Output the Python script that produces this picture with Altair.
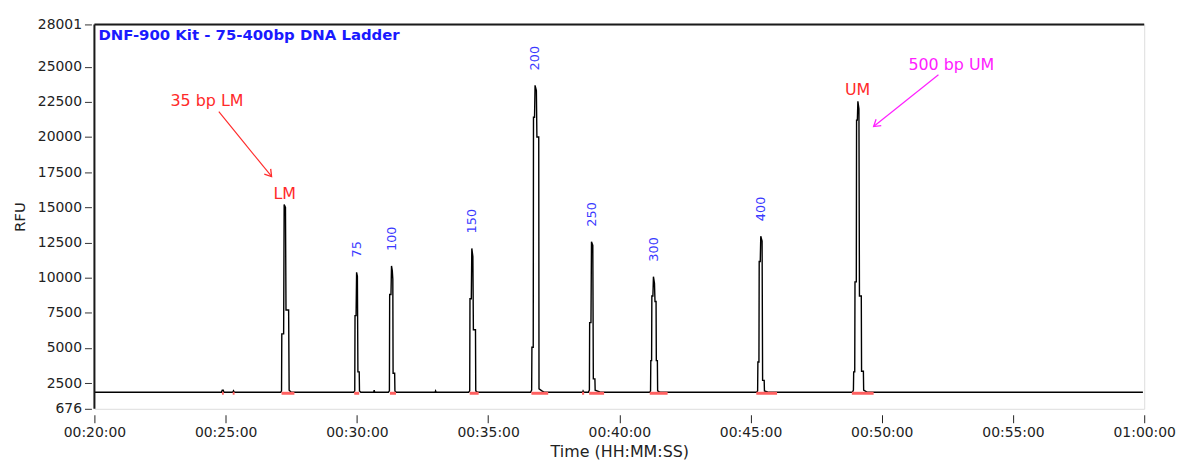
import altair as alt
import pandas as pd

# ---- trace (time in minutes, RFU) ----
TRACE_T = [20.00,
           24.84, 24.87, 24.91, 24.93, 25.27, 25.30, 25.33,
           27.10, 27.13, 27.14, 27.21, 27.23, 27.28, 27.30, 27.40, 27.42, 27.50,
           29.88, 29.92, 29.93, 29.97, 29.99, 30.02, 30.04, 30.09, 30.10, 30.15,
           30.64, 30.66, 30.68,
           31.20, 31.24, 31.25, 31.30, 31.32, 31.35, 31.37, 31.38, 31.44, 31.45, 31.50,
           32.98, 33.00, 33.02,
           34.26, 34.30, 34.31, 34.36, 34.38, 34.42, 34.44, 34.52, 34.53, 34.60,
           36.62, 36.66, 36.67, 36.72, 36.73, 36.77, 36.79, 36.84, 36.86, 36.93, 36.94, 37.05, 37.15,
           38.60, 38.62, 38.65, 38.82, 38.86, 38.87, 38.92, 38.94, 38.99, 39.01, 39.07, 39.08, 39.30,
           41.16, 41.19, 41.20, 41.23, 41.24, 41.28, 41.30, 41.34, 41.36, 41.40, 41.41, 41.45, 41.46, 41.55,
           45.23, 45.27, 45.28, 45.32, 45.33, 45.37, 45.39, 45.44, 45.46, 45.52, 45.53, 45.70,
           48.88, 48.92, 48.93, 48.97, 48.98, 49.03, 49.04, 49.07, 49.09, 49.13, 49.15, 49.22, 49.23, 49.30, 49.31, 49.45,
           59.95]
TRACE_V = [1850,
           1850, 1990, 1990, 1850, 1850, 1960, 1850,
           1850, 1950, 6000, 6000, 15200, 15000, 7700, 7700, 2000, 1850,
           1850, 1950, 7300, 7300, 10380, 10100, 3300, 3300, 1950, 1850,
           1850, 2000, 1850,
           1850, 1950, 8800, 8800, 10830, 10500, 9900, 3200, 3200, 1950, 1850,
           1850, 1950, 1850,
           1850, 1950, 8500, 8500, 12080, 11500, 6300, 6300, 1950, 1850,
           1850, 2000, 5050, 5050, 21400, 21400, 23670, 23300, 20000, 20000, 2100, 1950, 1850,
           1850, 1950, 1850, 1850, 2000, 6800, 6800, 12560, 12300, 2800, 2800, 2000, 1850,
           1850, 1950, 4100, 4100, 8700, 8700, 10070, 9600, 8300, 8300, 4100, 4100, 1950, 1850,
           1850, 1950, 4000, 4000, 11150, 11150, 12950, 12600, 2700, 2700, 1950, 1850,
           1850, 2000, 3300, 3300, 9700, 9700, 21200, 21200, 22540, 22000, 8700, 8700, 3350, 3350, 2000, 1850,
           1850]

# ---- sized peaks ----
PEAK_LABELS = ["75", "100", "150", "200", "250", "300", "400"]
PEAK_T = [30.00, 31.33, 34.40, 36.80, 38.95, 41.32, 45.40]
PEAK_V = [10380, 10830, 12080, 23670, 12560, 10070, 12950]

# ---- markers ----
MARKER_LABELS = ["LM", "UM"]
MARKER_T = [27.25, 49.08]
MARKER_V = [15200, 22540]

# ---- integration baselines (red) ----
RED_START = [24.86, 25.27, 27.13, 29.90, 31.26, 34.30, 36.65, 38.58, 38.85, 41.16, 45.22, 48.86]
RED_END = [24.93, 25.34, 27.62, 30.09, 31.49, 34.64, 37.29, 38.66, 39.42, 41.84, 46.01, 49.69]
RED_LEVEL = 1780

# ---- annotations ----
NOTE_TEXT = ["35 bp LM", "500 bp UM"]
NOTE_T = [24.29, 52.65]
NOTE_V = [22585, 25140]
ARROW_T1 = [24.74, 52.16]
ARROW_V1 = [21800, 24430]
ARROW_T2 = [26.75, 49.69]
ARROW_V2 = [17191, 20740]

TITLE = "DNF-900 Kit - 75-400bp DNA Ladder"
X_TICKS = [20, 25, 30, 35, 40, 45, 50, 55, 60]
Y_TICKS = [676, 2500, 5000, 7500, 10000, 12500, 15000, 17500, 20000, 22500, 25000, 28001]
X_DOMAIN = [20, 60]
Y_DOMAIN = [676, 28001]

FONT = "DejaVu Sans"

trace = pd.DataFrame({"t": TRACE_T, "v": TRACE_V})
peaks = pd.DataFrame({"t": PEAK_T, "v": PEAK_V, "label": PEAK_LABELS})
markers = pd.DataFrame({"t": MARKER_T, "v": MARKER_V, "label": MARKER_LABELS})
reds = pd.DataFrame({"t1": RED_START, "t2": RED_END, "v": [RED_LEVEL] * len(RED_START)})
notes = pd.DataFrame({"t": NOTE_T, "v": NOTE_V, "label": NOTE_TEXT,
                      "t1": ARROW_T1, "v1": ARROW_V1, "t2": ARROW_T2, "v2": ARROW_V2})
title_df = pd.DataFrame({"t": [X_DOMAIN[0]], "v": [Y_DOMAIN[1]], "label": [TITLE]})
frame_df = pd.DataFrame({"x0": [X_DOMAIN[0]], "x1": [X_DOMAIN[1]],
                         "y0": [Y_DOMAIN[0]], "y1": [Y_DOMAIN[1]]})

xscale = alt.Scale(domain=X_DOMAIN, nice=False, zero=False)
yscale = alt.Scale(domain=Y_DOMAIN, nice=False, zero=False)

x_axis = alt.Axis(values=X_TICKS, tickCount=30, title="Time (HH:MM:SS)",
                  labelExpr="datum.value == 60 ? '01:00:00' : '00:' + datum.value + ':00'",
                  grid=False, domain=False, offset=6, tickSize=8, tickColor="#222",
                  labelPadding=3, labelFont=FONT, labelFontSize=14, labelColor="#222",
                  titleFont=FONT, titleFontSize=16, titleFontWeight="normal", titleColor="#222",
                  titlePadding=4, labelFlush=False, labelOverlap=False)
y_axis = alt.Axis(values=Y_TICKS, tickCount=30, title="RFU", format="d",
                  grid=False, domain=False, offset=3, tickSize=7, tickColor="#333",
                  labelPadding=3, labelFont=FONT, labelFontSize=14, labelColor="#222",
                  titleFont=FONT, titleFontSize=15, titleFontWeight="normal", titleColor="#222",
                  titlePadding=10, labelFlush=False, labelOverlap=False)

line = alt.Chart(trace).mark_line(color="black", strokeWidth=1.4).encode(
    x=alt.X("t:Q", scale=xscale, axis=x_axis),
    y=alt.Y("v:Q", scale=yscale, axis=y_axis),
    order="t:Q",
)

# dark top and left frame edges (right/bottom stay light grey from view stroke)
frame_left = alt.Chart(frame_df).mark_rule(color="#1a1a1a", strokeWidth=2).encode(
    x="x0:Q", y="y0:Q", y2="y1:Q"
)
frame_top = alt.Chart(frame_df).mark_rule(color="#1a1a1a", strokeWidth=2).encode(
    x="x0:Q", x2="x1:Q", y="y1:Q"
)

red = alt.Chart(reds).mark_rule(color="#ff6060", strokeWidth=3).encode(
    x="t1:Q", x2="t2:Q", y="v:Q"
)

peak_text = alt.Chart(peaks).mark_text(angle=270, align="left", baseline="middle", dx=15,
                                       font=FONT, fontSize=13, color="#3a3aff").encode(
    x="t:Q", y="v:Q", text="label:N"
)

marker_text = alt.Chart(markers).mark_text(align="center", baseline="alphabetic", dy=-6,
                                           font=FONT, fontSize=16, color="#ff2a2a").encode(
    x="t:Q", y="v:Q", text="label:N"
)

note_colors = alt.Scale(domain=NOTE_TEXT, range=["#ff2a2a", "#ff20ff"])

note_text = alt.Chart(notes).mark_text(align="center", baseline="middle",
                                       font=FONT, fontSize=16).encode(
    x="t:Q", y="v:Q", text="label:N",
    color=alt.Color("label:N", scale=note_colors, legend=None)
)

arrows = alt.Chart(notes).mark_rule(strokeWidth=1.2).encode(
    x="t1:Q", y="v1:Q", x2="t2:Q", y2="v2:Q",
    color=alt.Color("label:N", scale=note_colors, legend=None)
)

chevron = "M -0.7 1.1 L 0 0 L 0.7 1.1"
head1 = alt.Chart(notes.iloc[[0]]).mark_point(shape=chevron, filled=False, size=140,
                                              strokeWidth=1.3, angle=141, opacity=1).encode(
    x="t2:Q", y="v2:Q",
    color=alt.Color("label:N", scale=note_colors, legend=None)
)
head2 = alt.Chart(notes.iloc[[1]]).mark_point(shape=chevron, filled=False, size=140,
                                              strokeWidth=1.3, angle=231, opacity=1).encode(
    x="t2:Q", y="v2:Q",
    color=alt.Color("label:N", scale=note_colors, legend=None)
)

title = alt.Chart(title_df).mark_text(align="left", baseline="top", dx=4, dy=4,
                                      font=FONT, fontSize=15, fontWeight="bold",
                                      color="#1a1aff").encode(
    x="t:Q", y="v:Q", text="label:N"
)

chart = alt.layer(line, frame_left, frame_top, red, peak_text, marker_text, note_text,
                  arrows, head1, head2, title).properties(
    width=1057, height=387,
    autosize=alt.AutoSizeParams(type="none"),
    padding={"left": 87, "top": 15, "right": 32, "bottom": 50},
).configure_view(stroke="#b5b5b5", strokeWidth=1.5).configure(background="white")

chart.save("out.html", embed_options={"renderer": "svg", "actions": False})
